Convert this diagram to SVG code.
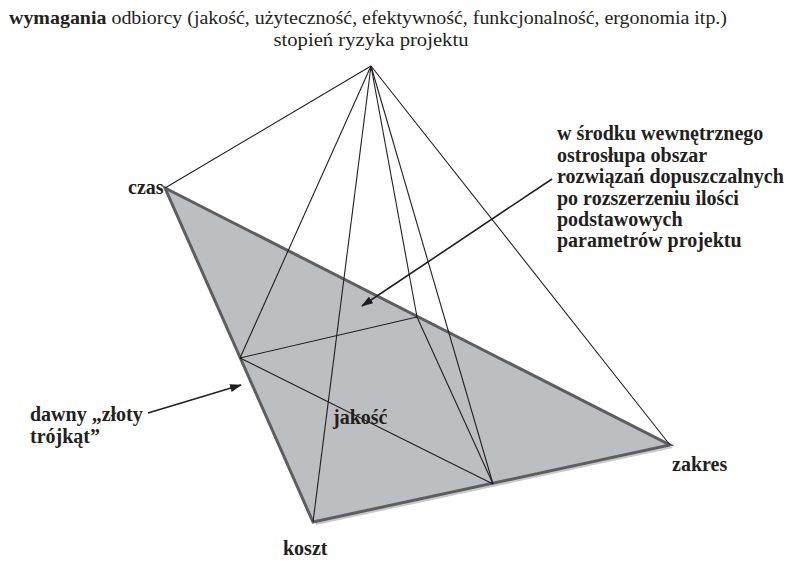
<svg xmlns="http://www.w3.org/2000/svg" width="790" height="562" viewBox="0 0 790 562">
  <defs>
    <style>
      .title { font-family: "Liberation Serif", "Times New Roman", serif; font-size: 19px; fill: #231f20; }
      .lbl { font-family: "Liberation Serif", "Times New Roman", serif; font-size: 20px; font-weight: bold; fill: #231f20; }
      .edge { stroke: #231f20; stroke-width: 1.1; fill: none; }
      .arrow { stroke: #231f20; stroke-width: 1.6; fill: none; }
    </style>
    <marker id="head" viewBox="0 0 12 8" refX="11" refY="4" markerWidth="12" markerHeight="8" markerUnits="userSpaceOnUse" orient="auto">
      <path d="M0,0 L12,4 L0,8 Z" fill="#231f20"/>
    </marker>
  </defs>
  <rect width="790" height="562" fill="#ffffff"/>

  <!-- header -->
  <g id="header">
    <text class="title" x="9" y="24" textLength="718" lengthAdjust="spacingAndGlyphs"><tspan font-weight="bold">wymagania</tspan> odbiorcy (jakość, użyteczność, efektywność, funkcjonalność, ergonomia itp.)</text>
    <text class="title" x="371" y="46" text-anchor="middle" textLength="195" lengthAdjust="spacingAndGlyphs">stopień ryzyka projektu</text>
  </g>

  <!-- base triangle: czas, zakres, koszt -->
  <g id="base">
    <polygon points="167,191 673,448 316,525" fill="#c9c9cb"/>
    <polygon points="165,188 670,445 313,522" fill="#bdbec1" stroke="#5e5e60" stroke-width="3" stroke-linejoin="miter"/>
  </g>

  <!-- pyramid edges -->
  <g id="connectors">
    <line class="edge" x1="371" y1="66" x2="165" y2="188"/>
    <line class="edge" x1="371" y1="66" x2="240" y2="358"/>
    <line class="edge" x1="371" y1="66" x2="313" y2="522"/>
    <line class="edge" x1="371" y1="66" x2="417" y2="317"/>
    <line class="edge" x1="371" y1="66" x2="493" y2="484"/>
    <line class="edge" x1="371" y1="66" x2="670" y2="445"/>
    <line class="edge" x1="240" y1="358" x2="417" y2="317"/>
    <line class="edge" x1="417" y1="317" x2="493" y2="484"/>
    <line class="edge" x1="240" y1="358" x2="493" y2="484"/>
    <line class="arrow" x1="552" y1="179" x2="362" y2="306" marker-end="url(#head)"/>
    <line class="arrow" x1="148" y1="413" x2="241" y2="385" marker-end="url(#head)"/>
  </g>

  <g id="czas"><text class="lbl" x="128" y="194">czas</text></g>
  <g id="zakres"><text class="lbl" x="672" y="471">zakres</text></g>
  <g id="koszt"><text class="lbl" x="283" y="555">koszt</text></g>
  <g id="jakosc"><text class="lbl" x="333" y="424">jakość</text></g>

  <g id="zloty">
    <text class="lbl" x="30" y="421">dawny „złoty</text>
    <text class="lbl" x="30" y="443">trójkąt”</text>
  </g>

  <g id="obszar">
    <text class="lbl" x="557" y="140">w środku wewnętrznego</text>
    <text class="lbl" x="557" y="162">ostrosłupa obszar</text>
    <text class="lbl" x="557" y="183">rozwiązań dopuszczalnych</text>
    <text class="lbl" x="557" y="205">po rozszerzeniu ilości</text>
    <text class="lbl" x="557" y="226">podstawowych</text>
    <text class="lbl" x="557" y="247">parametrów projektu</text>
  </g>
</svg>
